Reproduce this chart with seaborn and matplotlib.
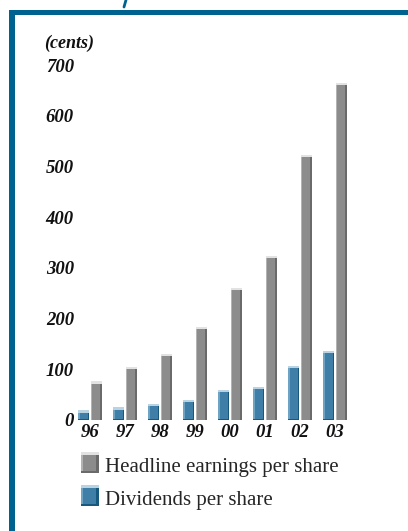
import matplotlib
matplotlib.use("Agg")
import matplotlib.pyplot as plt
from matplotlib.patches import Rectangle, Patch
from matplotlib.lines import Line2D
from matplotlib.legend_handler import HandlerBase
import seaborn as sns
import pandas as pd

# Per-share figures, in cents
years = ["96", "97", "98", "99", "00", "01", "02", "03"]
headline_eps = [76, 104, 131, 183, 260, 323, 523, 665]
dividends = [19, 25, 31, 40, 60, 65, 106, 136]
series_names = ["Dividends per share", "Headline earnings per share"]
y_ticks = [0, 100, 200, 300, 400, 500, 600, 700]
unit_label = "(cents)"

FRAME = "#00628f"
BLUE = "#3f7fa7"
GRAY = "#8c8c8c"
# (top cap, left highlight, right shadow) for each bar colour
BEVEL = {
    BLUE: ("#b9d3e3", "#6fa3c3", "#17587f"),
    GRAY: ("#e2e2e2", "#b3b3b3", "#6a6a6a"),
}

sns.set_theme(style="white")
plt.rcParams["font.family"] = ["Liberation Serif", "DejaVu Serif"]

df = pd.DataFrame({
    "year": years * 2,
    "series": [series_names[0]] * len(years) + [series_names[1]] * len(years),
    "value": dividends + headline_eps,
})

W, H = 408, 531
fig = plt.figure(figsize=(W / 100, H / 100), dpi=100)
fig.patch.set_facecolor("white")

ax_left, ax_right = 72.5, 352.5
ax_bottom, ax_top = 420.0, 65.1
ax = fig.add_axes([ax_left / W, 1 - ax_bottom / H,
                   (ax_right - ax_left) / W, (ax_bottom - ax_top) / H])

sns.barplot(data=df, x="year", y="value", hue="series", hue_order=series_names,
            palette=[BLUE, GRAY], width=0.72, gap=0.12, saturation=1,
            linewidth=0, legend=False, ax=ax)

ax.set_xlim(-0.5, 7.5)
ax.set_ylim(0, 700)
ax.set_xlabel("")
ax.set_ylabel("")
for s in ax.spines.values():
    s.set_visible(False)
ax.set_facecolor("none")

tick_font = dict(family="Liberation Serif", style="italic", weight="bold", size=13.5)
ax.set_yticks(y_ticks)
ax.set_yticklabels([str(v) for v in y_ticks], fontdict=tick_font, color="#111111")
ax.set_xticks(range(len(years)))
ax.set_xticklabels(years, fontdict=tick_font, color="#111111")
ax.tick_params(axis="y", length=0, pad=-1)
ax.tick_params(axis="x", length=0, pad=3)

# Bevelled look for each bar: light cap and left edge, dark right edge
px_x = 8.0 / (ax_right - ax_left)
px_y = 700.0 / (ax_bottom - ax_top)
for bar in list(ax.patches):
    fc = matplotlib.colors.to_hex(bar.get_facecolor())
    key = BLUE if fc.lower() == BLUE else GRAY
    cap, hi, lo = BEVEL[key]
    x0, w, h = bar.get_x(), bar.get_width(), bar.get_height()
    ax.add_patch(Rectangle((x0, 0), 1.6 * px_x, h, color=hi, lw=0, zorder=3))
    ax.add_patch(Rectangle((x0 + w - 1.6 * px_x, 0), 1.6 * px_x, h, color=lo, lw=0, zorder=3))
    ax.add_patch(Rectangle((x0, h - 2.2 * px_y), w, 2.2 * px_y, color=cap, lw=0, zorder=4))
    if key == BLUE:
        ax.add_patch(Rectangle((x0, 0), w, 1.2 * px_y, color=lo, lw=0, zorder=4))

fig.text(44 / W, 1 - 43.5 / H, unit_label,
         fontdict=dict(tick_font, size=13), color="#111111",
         ha="left", va="center")

PT = 0.72  # points per pixel at 100 dpi


class BevelHandler(HandlerBase):
    """Square legend key drawn with the same bevel as the bars."""

    def create_artists(self, legend, orig_handle, xdescent, ydescent,
                       width, height, fontsize, trans):
        fc = matplotlib.colors.to_hex(orig_handle.get_facecolor())
        cap, hi, lo = BEVEL[fc]
        kw, kh = 18 * PT, 21 * PT
        x0, y0 = -xdescent, -1 * PT
        b = 2.6 * PT
        arts = [
            Rectangle((x0, y0), kw, kh, color=fc, lw=0),
            Rectangle((x0, y0), b, kh, color=hi, lw=0),
            Rectangle((x0 + kw - b, y0), b, kh, color=lo, lw=0),
            Rectangle((x0, y0), kw, b, color=lo, lw=0),
            Rectangle((x0, y0 + kh - b), kw, b, color=cap, lw=0),
        ]
        for a in arts:
            a.set_transform(trans)
        return arts


handles = [Patch(facecolor=GRAY, label=series_names[1]),
           Patch(facecolor=BLUE, label=series_names[0])]
fs = 15
fig.legend(handles=handles, labels=[h.get_label() for h in handles],
           handler_map={Patch: BevelHandler()},
           loc="upper left", bbox_to_anchor=(80.5 / W, 1 - 456 / H),
           frameon=False, borderpad=0, borderaxespad=0,
           prop=dict(family="Liberation Serif", size=fs),
           handlelength=18 / (fs / PT), handleheight=1.0,
           handletextpad=0.3, labelspacing=0.55)

# Blue frame along the left and top
fig.add_artist(Rectangle((9 / W, 0), 6 / W, (H - 10) / H, transform=fig.transFigure,
                         color=FRAME, lw=0))
fig.add_artist(Rectangle((9 / W, 1 - 15 / H), 1, 5 / H, transform=fig.transFigure,
                         color=FRAME, lw=0))
fig.add_artist(Line2D([124 / W, 126 / W], [1 - 7 / H, 1.0], transform=fig.transFigure,
                      color=FRAME, lw=2))

fig.savefig("out.png", dpi=100)
